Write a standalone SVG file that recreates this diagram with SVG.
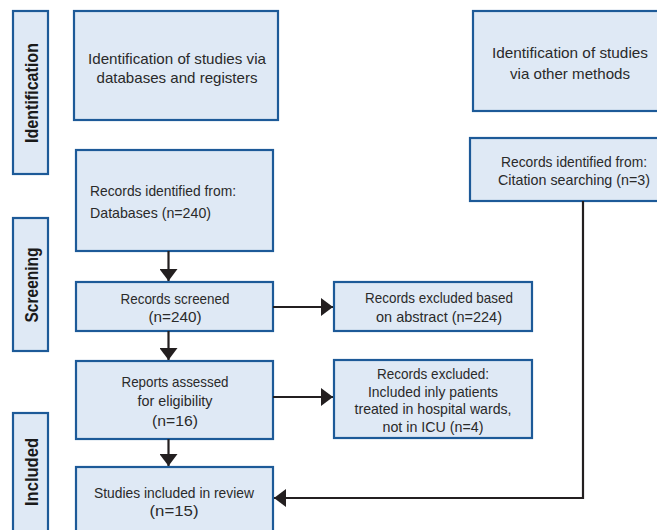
<svg xmlns="http://www.w3.org/2000/svg" width="657" height="530" viewBox="0 0 657 530">
<style>
.box{fill:#dfe9f5;stroke:#1d5a98;stroke-width:2.2}
.t{font-family:"Liberation Sans",Arial,sans-serif;font-size:15px;fill:#2a2a2a;text-anchor:middle}
.l{text-anchor:start}
.s{font-family:"Liberation Sans",Arial,sans-serif;font-size:19px;font-weight:bold;fill:#1a1a1a;text-anchor:middle}
.c{fill:none;stroke:#231f20;stroke-width:2.2}
</style>
<defs>
<marker id="ah" viewBox="0 0 12 18" refX="12" refY="9" markerWidth="12" markerHeight="18" markerUnits="userSpaceOnUse" orient="auto">
<path d="M0,0 L12,9 L0,18 z" fill="#231f20"/>
</marker>
</defs>
<rect width="657" height="530" fill="#ffffff"/>
<g id="side-identification">
<rect class="box" x="13" y="11" width="35" height="163"/>
<text class="s" transform="translate(31,93) rotate(-90)" y="7" textLength="100" lengthAdjust="spacingAndGlyphs">Identification</text>
</g>
<g id="side-screening">
<rect class="box" x="13" y="218" width="35" height="133"/>
<text class="s" transform="translate(31,285) rotate(-90)" y="7" textLength="75" lengthAdjust="spacingAndGlyphs">Screening</text>
</g>
<g id="side-included">
<rect class="box" x="13" y="413" width="35" height="130"/>
<text class="s" transform="translate(31,472) rotate(-90)" y="7" textLength="68" lengthAdjust="spacingAndGlyphs">Included</text>
</g>
<g id="id-databases">
<rect class="box" x="74" y="11" width="204" height="109"/>
<text class="t" x="177" y="64" textLength="178" lengthAdjust="spacingAndGlyphs">Identification of studies via</text>
<text class="t" x="177" y="83" textLength="161" lengthAdjust="spacingAndGlyphs">databases and registers</text>
</g>
<g id="id-other">
<rect class="box" x="473" y="11" width="200" height="100"/>
<text class="t" x="570" y="58" textLength="156" lengthAdjust="spacingAndGlyphs">Identification of studies</text>
<text class="t" x="570" y="79" textLength="120" lengthAdjust="spacingAndGlyphs">via other methods</text>
</g>
<g id="records-identified">
<rect class="box" x="76" y="150" width="197" height="101"/>
<text class="t l" x="90" y="196" textLength="146" lengthAdjust="spacingAndGlyphs">Records identified from:</text>
<text class="t l" x="90" y="218" textLength="121" lengthAdjust="spacingAndGlyphs">Databases (n=240)</text>
</g>
<g id="citation">
<rect class="box" x="470" y="138" width="210" height="63"/>
<text class="t" x="574" y="167" textLength="146" lengthAdjust="spacingAndGlyphs">Records identified from:</text>
<text class="t" x="574" y="185" textLength="152" lengthAdjust="spacingAndGlyphs">Citation searching (n=3)</text>
</g>
<g id="screened">
<rect class="box" x="76" y="282" width="197" height="49"/>
<text class="t" x="175" y="304" textLength="109" lengthAdjust="spacingAndGlyphs">Records screened</text>
<text class="t" x="175" y="322" textLength="53" lengthAdjust="spacingAndGlyphs">(n=240)</text>
</g>
<g id="excluded-abstract">
<rect class="box" x="334" y="282" width="198" height="49"/>
<text class="t" x="439" y="303" textLength="148" lengthAdjust="spacingAndGlyphs">Records excluded based</text>
<text class="t" x="439" y="322" textLength="126" lengthAdjust="spacingAndGlyphs">on abstract (n=224)</text>
</g>
<g id="reports">
<rect class="box" x="76" y="361" width="197" height="78"/>
<text class="t" x="175" y="387" textLength="107" lengthAdjust="spacingAndGlyphs">Reports assessed</text>
<text class="t" x="175" y="406" textLength="75" lengthAdjust="spacingAndGlyphs">for eligibility</text>
<text class="t" x="175" y="426" textLength="46" lengthAdjust="spacingAndGlyphs">(n=16)</text>
</g>
<g id="excluded-icu">
<rect class="box" x="334" y="360" width="198" height="78"/>
<text class="t" x="433" y="379" textLength="112" lengthAdjust="spacingAndGlyphs">Records excluded:</text>
<text class="t" x="433" y="397" textLength="130" lengthAdjust="spacingAndGlyphs">Included inly patients</text>
<text class="t" x="433" y="414" textLength="157" lengthAdjust="spacingAndGlyphs">treated in hospital wards,</text>
<text class="t" x="433" y="432" textLength="101" lengthAdjust="spacingAndGlyphs">not in ICU (n=4)</text>
</g>
<g id="studies-included">
<rect class="box" x="76" y="467" width="197" height="80"/>
<text class="t" x="174" y="498" textLength="160" lengthAdjust="spacingAndGlyphs">Studies included in review</text>
<text class="t" x="174" y="516" textLength="49" lengthAdjust="spacingAndGlyphs">(n=15)</text>
</g>
<g id="connectors">
<line class="c" x1="168.5" y1="251" x2="168.5" y2="281" marker-end="url(#ah)"/>
<line class="c" x1="168.5" y1="331" x2="168.5" y2="360" marker-end="url(#ah)"/>
<line class="c" x1="168.5" y1="439" x2="168.5" y2="466" marker-end="url(#ah)"/>
<line class="c" x1="273" y1="307" x2="333" y2="307" marker-end="url(#ah)"/>
<line class="c" x1="273" y1="397" x2="333" y2="397" marker-end="url(#ah)"/>
<path class="c" d="M583,201 V498 H274" marker-end="url(#ah)"/>
</g>
</svg>
